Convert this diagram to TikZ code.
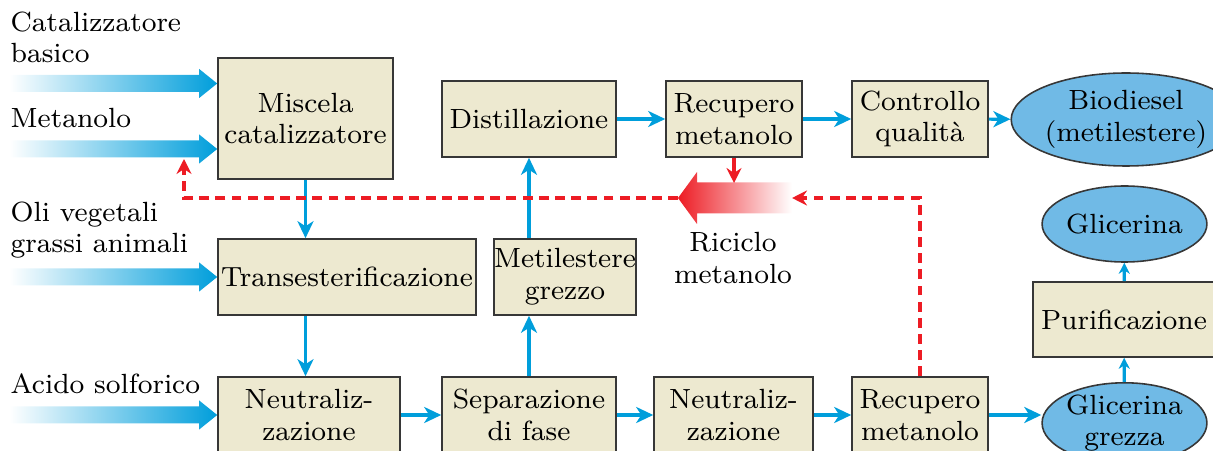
\documentclass[tikz,border=0pt]{standalone}
\usepackage{tikz}
\usetikzlibrary{arrows.meta,shapes.geometric}

\definecolor{flowblue}{RGB}{0,158,219}
\definecolor{boxfill}{RGB}{237,233,208}
\definecolor{boxline}{RGB}{55,55,55}
\definecolor{ovalfill}{RGB}{112,186,230}
\definecolor{loopred}{RGB}{237,28,36}

% fat feed arrow ending at #1
\newcommand{\feedarrow}[1]{%
  \shade[left color=white, right color=flowblue]
    (#1) -- ++(-0.18,0.145) -- ++(0,-0.06) -- ++(-1.9,0)
    -- ++(0,-0.17) -- ++(1.9,0) -- ++(0,-0.06) -- cycle;}

\begin{document}
\begin{tikzpicture}[font=\fontsize{7.9}{9}\selectfont,
    process/.style={draw=boxline, line width=0.45pt, fill=boxfill, align=center,
      inner sep=0pt, minimum height=0.76cm},
    product/.style={ellipse, draw=boxline, line width=0.45pt, fill=ovalfill,
      align=center, inner sep=0pt},
    flow/.style={flowblue, line width=0.9pt,
      -{Stealth[length=1.7mm,width=1.6mm,inset=0.5mm]}},
    smallflow/.style={flowblue, line width=0.9pt,
      -{Stealth[length=1.1mm,width=1.1mm,inset=0.35mm]}},
    recycle/.style={loopred, line width=0.9pt, dash pattern=on 2.8pt off 1.8pt,
      -{Stealth[length=1.5mm,width=1.5mm,inset=0.5mm]}},
    feedlabel/.style={anchor=base west, align=left, inner sep=0pt}]
    \useasboundingbox (0,0) rectangle (12.13,-4.51);

    % Process boxes
    \node[process, minimum width=1.75cm, minimum height=1.21cm] (mix) at (3.055,-1.185) {Miscela\\catalizzatore};
    \node[process, minimum width=2.58cm] (trans) at (3.47,-2.77) {Transesterificazione};
    \node[process, minimum width=1.82cm] (neut1) at (3.09,-4.15) {Neutraliz-\\zazione};
    \node[process, minimum width=1.74cm] (sep) at (5.29,-4.15) {Separazione\\di fase};
    \node[process, minimum width=1.59cm] (neut2) at (7.335,-4.15) {Neutraliz-\\zazione};
    \node[process, minimum width=1.36cm] (rec2) at (9.2,-4.15) {Recupero\\metanolo};
    \node[process, minimum width=1.32cm] (metg) at (5.65,-2.77) {Metilestere\\grezzo};
    \node[process, minimum width=1.74cm] (dist) at (5.29,-1.19) {Distillazione};
    \node[process, minimum width=1.36cm] (rec1) at (7.34,-1.19) {Recupero\\metanolo};
    \node[process, minimum width=1.36cm] (ctrl) at (9.2,-1.19) {Controllo\\qualità};
    \node[process, minimum width=1.82cm, minimum height=0.75cm] (puri) at (11.24,-3.195) {Purificazione};

    % Products
    \node[product, minimum width=1.86cm, minimum height=0.93cm] (bio) at (11.26,-1.195) {Biodiesel\\(metilestere)};
    \node[product, minimum width=1.51cm, minimum height=0.76cm] (glic) at (11.245,-2.24) {Glicerina};
    \node[product, minimum width=1.51cm, minimum height=0.76cm] (grez) at (11.245,-4.23) {Glicerina\\grezza};

    % Feeds
    \node[feedlabel] (catlab) at (0.10,-0.63) {Catalizzatore\\basico};
    \node[feedlabel] (metlab) at (0.10,-1.28) {Metanolo};
    \node[feedlabel] (olilab) at (0.10,-2.53) {Oli vegetali\\grassi animali};
    \node[feedlabel] (acilab) at (0.10,-3.93) {Acido solforico};
    \coordinate (in1) at (mix.west |- 0,-0.835);
    \coordinate (in2) at (mix.west |- 0,-1.49);
    \feedarrow{in1}
    \feedarrow{in2}
    \feedarrow{trans.west}
    \feedarrow{neut1.west}

    % Main flow
    \draw[flow] (mix.south) -- (mix.south |- trans.north);
    \draw[flow] (mix.south |- trans.south) -- (mix.south |- neut1.north);
    \draw[flow] (neut1) -- (sep);
    \draw[flow] (sep) -- (neut2);
    \draw[flow] (neut2) -- (rec2);
    \draw[flow] (rec2.east) -- (rec2.east -| grez.west);
    \draw[flow] (sep.north) -- (sep.north |- metg.south);
    \draw[flow] (sep.north |- metg.north) -- (dist.south);
    \draw[flow] (dist) -- (rec1);
    \draw[flow] (rec1) -- (ctrl);
    \draw[flow] (ctrl) -- (bio);
    \draw[smallflow] (grez) -- (puri);
    \draw[smallflow] (puri) -- (glic);

    % Methanol recycle
    \coordinate (bend) at (rec2.north |- 0,-1.98);
    \coordinate (fattail) at (7.92,-1.98);
    \coordinate (fattip) at (6.78,-1.98);
    \coordinate (back) at (1.84,-1.98);
    \coordinate (backtip) at (1.84,-1.59);
    \shade[left color=loopred, right color=white]
      (fattip) -- ++(0.19,0.26) -- ++(0,-0.105) -- ++(0.95,0)
      -- ++(0,-0.31) -- ++(-0.95,0) -- ++(0,-0.105) -- cycle;
    \draw[recycle] (rec2.north) -- (bend) -- (fattail);
    \draw[recycle] (fattip) -- (back) -- (backtip);
    \draw[recycle, dash pattern=] (rec1.south) -- (rec1.south |- 0,-1.83);
    \node[align=center] (riciclo) at (7.33,-2.58) {Riciclo\\metanolo};
\end{tikzpicture}
\end{document}
